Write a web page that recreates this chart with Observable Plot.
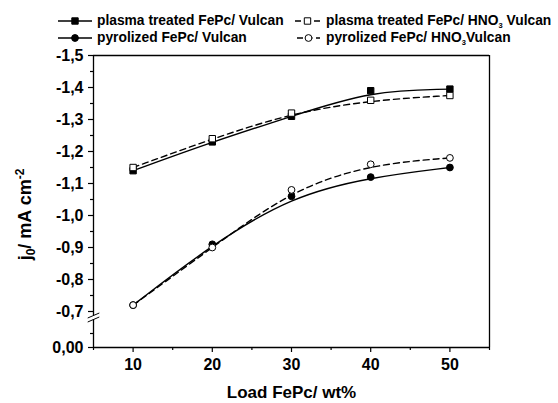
<!DOCTYPE html>
<html><head><meta charset="utf-8">
<script src="https://cdn.jsdelivr.net/npm/d3@7"></script>
<script src="https://cdn.jsdelivr.net/npm/@observablehq/plot@0.6"></script>
<style>
body{margin:0;background:#fff;font-family:"Liberation Sans",Arial,sans-serif;}
#wrap{position:relative;width:558px;height:403px;overflow:hidden;}
#legend{position:relative;width:558px;height:45px;font-weight:bold;font-size:13.8px;color:#000;}
.item{position:absolute;height:16px;display:flex;align-items:center;white-space:nowrap;}
.item svg{display:block;}
.lab{line-height:16px;}
.lab sub{font-size:7.5px;vertical-align:-3px;line-height:0;}
#chart svg{display:block;}
</style></head><body>
<div id="wrap"><div id="legend"></div><div id="chart"></div></div>
<script>
// ---- data ----
const loads = [10, 20, 30, 40, 50];
const plasmaVulcan = [-1.14, -1.23, -1.31, -1.39, -1.395];
const plasmaHNO3 = [-1.15, -1.24, -1.32, -1.36, -1.375];
const pyroVulcan = [-0.72, -0.91, -1.06, -1.12, -1.15];
const pyroHNO3 = [-0.72, -0.90, -1.08, -1.16, -1.18];
const seriesNames = [
  "plasma treated FePc/ Vulcan",
  "plasma treated FePc/ HNO3 Vulcan",
  "pyrolized FePc/ Vulcan",
  "pyrolized FePc/ HNO3Vulcan"
];
const xTicks = [10, 20, 30, 40, 50];
const xTickLabels = ["10", "20", "30", "40", "50"];
const xMinorTicks = [5, 15, 25, 35, 45, 55];
const yTicks = [0, -0.7, -0.8, -0.9, -1.0, -1.1, -1.2, -1.3, -1.4, -1.5];
const yTickLabels = ["0,00", "-0,7", "-0,8", "-0,9", "-1,0", "-1,1", "-1,2", "-1,3", "-1,4", "-1,5"];
const yMinorTicks = [-0.05, -0.75, -0.85, -0.95, -1.05, -1.15, -1.25, -1.35, -1.45];
const xTitle = "Load FePc/ wt%";
const yTitle = "j0/ mA cm-2";

// ---- styling ----
const seriesValues = [plasmaVulcan, plasmaHNO3, pyroVulcan, pyroHNO3];
const styles = [
  {symbol: "square", fill: "black", dash: null, r: 3.6},
  {symbol: "square", fill: "white", dash: "6,4", r: 3.6},
  {symbol: "circle", fill: "black", dash: null, r: 3.4},
  {symbol: "circle", fill: "white", dash: "6,4", r: 3.4}
];
const rows = seriesValues.map((vals, s) => loads.map((x, i) => ({x, y: vals[i], s})));

// y axis with a break: piecewise scale
const yDomain = [0, -0.05, -0.1, -0.7, -1.5];
const yRange = [302, 288, 274, 266, 10];
const yBreakLow = -0.1, yBreakHigh = -0.4, yBreakMid = -0.25;

const breakSymbol = {draw(ctx) {
  ctx.moveTo(-5.8, 0.5); ctx.lineTo(5.8, -4.5);
  ctx.moveTo(-5.8, 4.5); ctx.lineTo(5.8, -0.5);
}};

const xLab = new Map(xTicks.map((t, i) => [t, xTickLabels[i]]));
const yLab = new Map(yTicks.map((t, i) => [t, yTickLabels[i]]));

const marks = [];
// frame
marks.push(Plot.ruleY([0, -1.5], {stroke: "black", strokeWidth: 1.3}));
marks.push(Plot.ruleX([55], {stroke: "black", strokeWidth: 1.3}));
marks.push(Plot.ruleX([5], {y1: 0, y2: yBreakLow, stroke: "black", strokeWidth: 1.3}));
marks.push(Plot.ruleX([5], {y1: yBreakHigh, y2: -1.5, stroke: "black", strokeWidth: 1.3}));
marks.push(Plot.dot([5], {x: d => d, y: yBreakMid, symbol: breakSymbol, stroke: "black", strokeWidth: 1, fill: "none"}));
// axes
marks.push(Plot.axisX({ticks: xTicks, tickSize: 5, tickPadding: 6, tickFormat: d => xLab.get(d), fontSize: 16, fontWeight: "bold", label: null, strokeWidth: 1.2}));
marks.push(Plot.axisX({ticks: xMinorTicks, tickSize: 3, tickFormat: () => "", label: null, strokeWidth: 1.2}));
marks.push(Plot.axisY({ticks: yTicks, tickSize: 5, tickPadding: 5, tickFormat: d => yLab.get(d), fontSize: 16, fontWeight: "bold", label: null, strokeWidth: 1.2}));
marks.push(Plot.axisY({ticks: yMinorTicks, tickSize: 3, tickFormat: () => "", label: null, strokeWidth: 1.2}));
// lines
rows.forEach((r, s) => marks.push(Plot.line(r, {x: "x", y: "y", curve: "basis", stroke: "black", strokeWidth: 1.4, strokeDasharray: styles[s].dash})));
// dots: filled first, then open on top
[0, 2, 1, 3].forEach(s => marks.push(Plot.dot(rows[s], {x: "x", y: "y", symbol: styles[s].symbol, r: styles[s].r, fill: styles[s].fill, stroke: "black", strokeWidth: 1})));
// titles
marks.push(Plot.text([xTitle], {frameAnchor: "bottom", dy: 45, text: d => d, fontSize: 17, fontWeight: "bold", lineAnchor: "middle", textAnchor: "middle"}));
marks.push(Plot.text([yTitle], {frameAnchor: "left", dx: -68, dy: 13, rotate: -90, text: d => d, fontSize: 18, fontWeight: "bold", lineAnchor: "middle", textAnchor: "middle"}));

const chart = Plot.plot({
  width: 558, height: 358,
  marginLeft: 93, marginRight: 69, marginTop: 10, marginBottom: 56,
  x: {domain: [5, 55]},
  y: {type: "linear", domain: yDomain, range: yRange},
  style: {fontFamily: "'Liberation Sans', Arial, sans-serif", color: "black", background: "white"},
  marks
});
document.getElementById("chart").appendChild(chart);

// rich text for y title (subscript / superscript)
d3.select(chart).selectAll("text").filter(function() { return this.textContent === yTitle; }).each(function() {
  const t = d3.select(this); t.text(null);
  t.append("tspan").text("j");
  t.append("tspan").attr("font-size", 12).attr("dy", 4).text("0");
  t.append("tspan").attr("dy", -4).text("/ mA cm");
  t.append("tspan").attr("font-size", 12).attr("dy", -7).text("-2");
});

// legend
const legendPos = [
  {left: 58, top: 13, w: 34, gap: 5},
  {left: 295, top: 13, w: 25, gap: 6},
  {left: 58, top: 30, w: 34, gap: 5},
  {left: 297, top: 30, w: 23, gap: 6}
];
const legend = d3.select("#legend");
seriesNames.forEach((name, s) => {
  const p = legendPos[s], st = styles[s];
  const item = legend.append("div").attr("class", "item").style("left", p.left + "px").style("top", p.top + "px");
  const svg = item.append("svg").attr("width", p.w).attr("height", 16);
  svg.append("line").attr("x1", 0).attr("x2", p.w).attr("y1", 8).attr("y2", 8)
    .attr("stroke", "black").attr("stroke-width", 1.4).attr("stroke-dasharray", st.dash ? "6,3.5" : null);
  const sym = st.symbol === "square" ? d3.symbolSquare : d3.symbolCircle;
  svg.append("path").attr("d", d3.symbol(sym, Math.PI * st.r * st.r)()).attr("transform", `translate(${p.w / 2},8)`)
    .attr("fill", st.fill).attr("stroke", "black").attr("stroke-width", 1);
  const lab = item.append("span").attr("class", "lab").style("margin-left", p.gap + "px");
  lab.html(name.replace("HNO3", "HNO<sub>3</sub>"));
});
</script>
</body></html>
